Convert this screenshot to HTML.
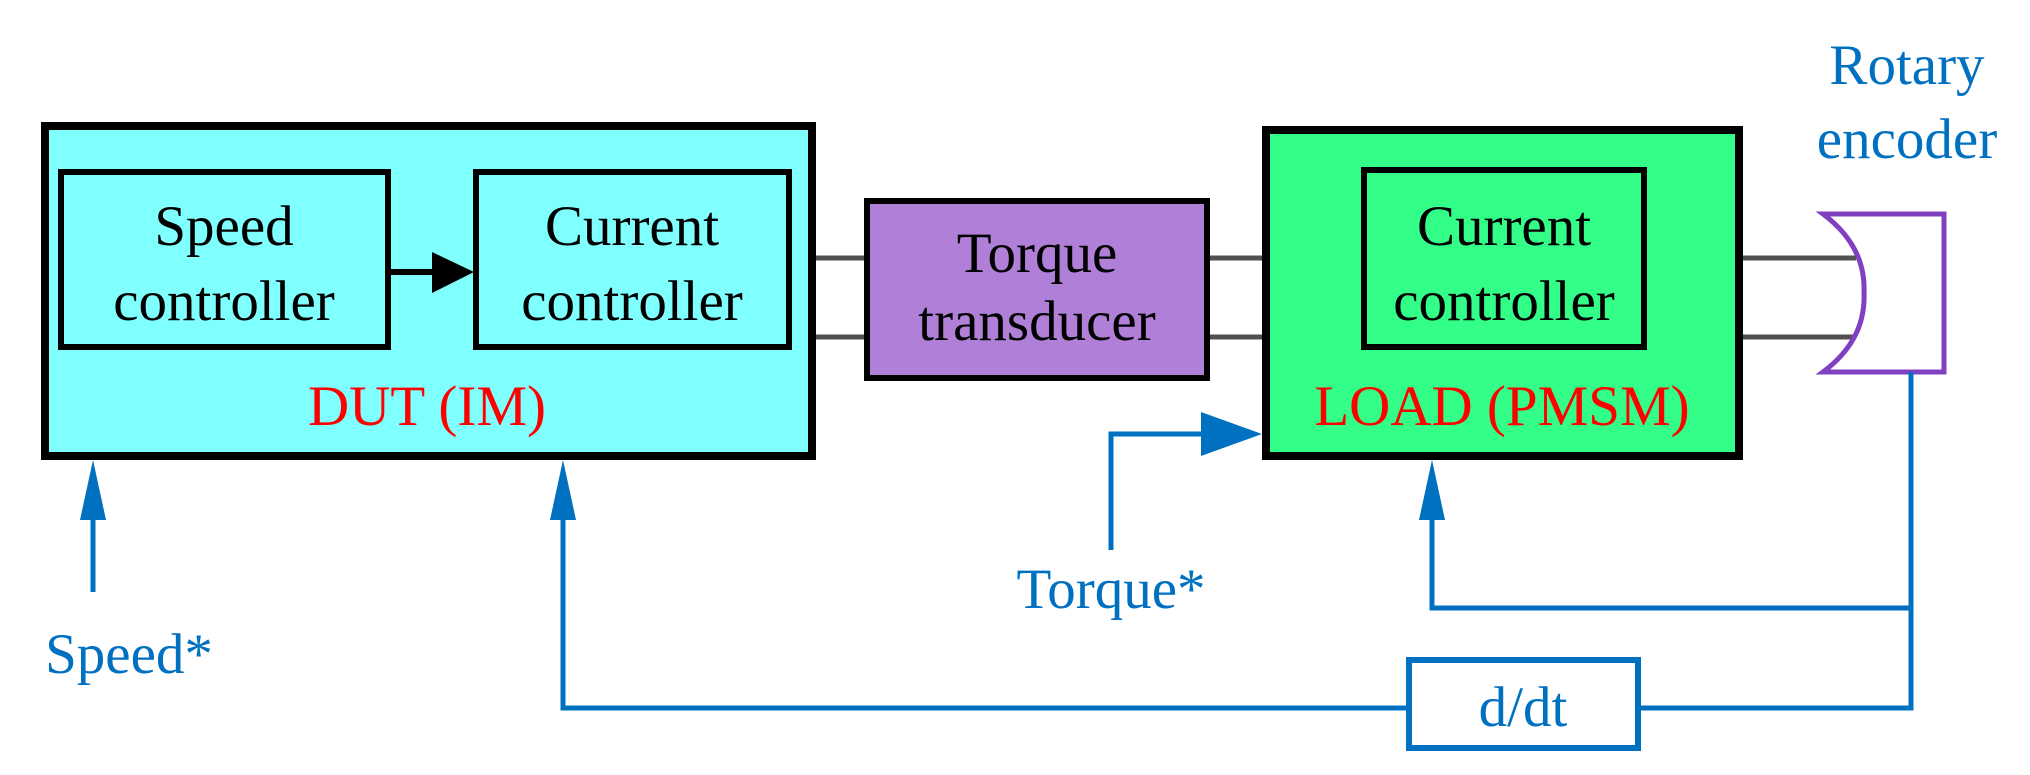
<!DOCTYPE html>
<html><head><meta charset="utf-8"><style>
html,body{margin:0;padding:0;background:#fff;}
svg{display:block;}
text{font-family:"Liberation Serif",serif;font-size:57px;text-anchor:middle;}
</style></head><body>
<svg width="2030" height="775" viewBox="0 0 2030 775" xmlns="http://www.w3.org/2000/svg">
<!-- gray shafts -->
<g stroke="#505050" stroke-width="5">
<line x1="812" y1="258" x2="865" y2="258"/><line x1="812" y1="337" x2="865" y2="337"/>
<line x1="1207" y1="258" x2="1262" y2="258"/><line x1="1207" y1="337" x2="1262" y2="337"/>
<line x1="1739" y1="258" x2="1856" y2="258"/><line x1="1739" y1="337" x2="1856" y2="337"/>
</g>
<!-- DUT -->
<rect x="45" y="126" width="767" height="330" fill="#80ffff" stroke="#000" stroke-width="8"/>
<rect x="61" y="172" width="327" height="175" fill="#80ffff" stroke="#000" stroke-width="6"/>
<rect x="476" y="172" width="313" height="175" fill="#80ffff" stroke="#000" stroke-width="6"/>
<line x1="388" y1="272" x2="440" y2="272" stroke="#000" stroke-width="6"/>
<polygon points="432,252 474,272 432,293" fill="#000"/>
<text x="224" y="245">Speed</text><text x="224" y="320">controller</text>
<text x="632" y="245">Current</text><text x="632" y="320">controller</text>
<text x="427" y="425" fill="#ff0000">DUT (IM)</text>
<!-- Torque transducer -->
<rect x="867" y="201" width="340" height="177" fill="#b080d8" stroke="#000" stroke-width="6"/>
<text x="1037" y="272">Torque</text><text x="1037" y="340">transducer</text>
<!-- LOAD -->
<rect x="1266" y="130" width="473" height="326" fill="#33ff88" stroke="#000" stroke-width="8"/>
<rect x="1364" y="170" width="280" height="177" fill="#33ff88" stroke="#000" stroke-width="6"/>
<text x="1504" y="245">Current</text><text x="1504" y="320">controller</text>
<text x="1502" y="425" fill="#ff0000">LOAD (PMSM)</text>
<!-- Encoder -->
<path d="M1823,214 L1944,214 L1944,372 L1823,372 Q1866,340 1864,293 Q1866,246 1823,214 Z" fill="#fff" stroke="#8040c0" stroke-width="5"/>
<text x="1907" y="84" fill="#0070c0">Rotary</text>
<text x="1907" y="158" fill="#0070c0">encoder</text>
<!-- blue lines -->
<g stroke="#0070c0" stroke-width="5" fill="none">
<line x1="93" y1="510" x2="93" y2="592"/>
<polyline points="563,510 563,708 1409,708"/>
<polyline points="1638,708 1911,708 1911,372"/>
<polyline points="1911,608 1432,608 1432,510"/>
<polyline points="1111,550 1111,434 1205,434"/>
</g>
<g fill="#0070c0">
<polygon points="93,460 80,520 106,520"/>
<polygon points="563,460 550,520 576,520"/>
<polygon points="1432,460 1419,520 1445,520"/>
<polygon points="1262,434 1201,412 1201,456"/>
</g>
<rect x="1409" y="660" width="229" height="88" fill="#fff" stroke="#0070c0" stroke-width="6"/>
<text x="1523" y="726" fill="#0070c0">d/dt</text>
<text x="129" y="673" fill="#0070c0">Speed*</text>
<text x="1111" y="608" fill="#0070c0">Torque*</text>
</svg>
</body></html>
